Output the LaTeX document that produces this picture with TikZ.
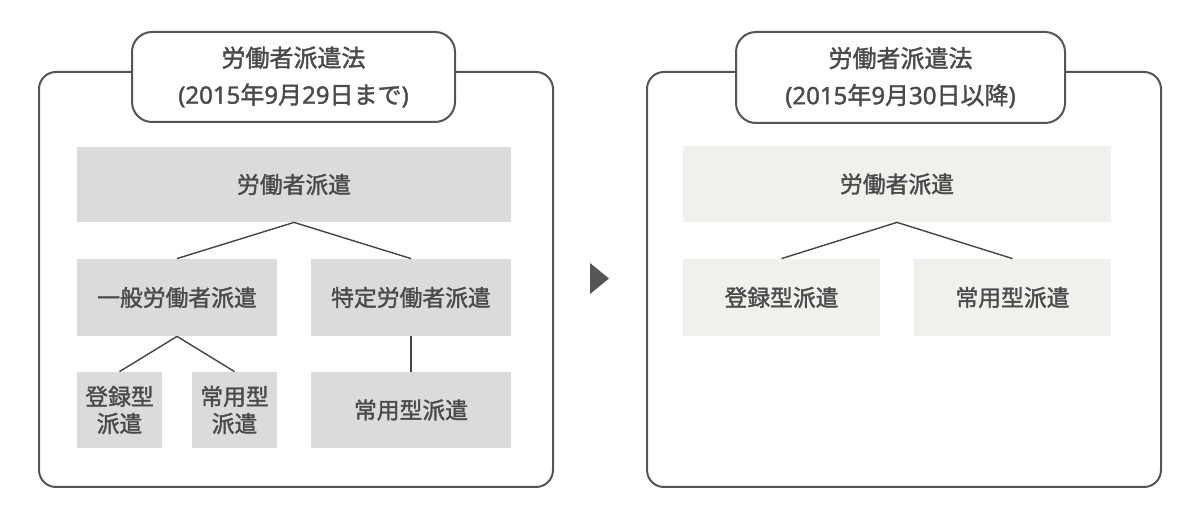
\documentclass[tikz,border=0pt]{standalone}
\usepackage{fontspec}
\setmainfont{Noto Sans CJK JP}[FakeBold=1.5]
\newfontfamily\lat{Noto Sans}[FakeBold=1.5]
\definecolor{txt}{HTML}{4A4A4A}
\definecolor{frm}{HTML}{555555}
\definecolor{lgray}{HTML}{DBDBDB}
\definecolor{beige}{HTML}{F2F0EC}
\definecolor{ln}{HTML}{444444}
\tikzset{
  frame/.style={draw=frm, line width=1pt, rounded corners=8.5pt},
  header/.style={draw=frm, fill=white, line width=1pt, rounded corners=10pt, inner sep=0pt, text=txt, align=center, font=\fontsize{12}{18.5}\selectfont},
  graybox/.style={fill=lgray, inner sep=0pt, text=txt, align=center, font=\fontsize{11.4}{13.5}\selectfont},
  beigebox/.style={fill=beige, inner sep=0pt, text=txt, align=center, font=\fontsize{11.4}{13.5}\selectfont},
  conn/.style={draw=ln, line width=0.7pt},
}
\begin{document}
\begin{tikzpicture}[x=0.5pt,y=-0.5pt]
\useasboundingbox (0,0) rectangle (1200,528);
% left frame
\draw[frame] (39,72) rectangle (553,487);
\node[header, minimum width=161.5pt, minimum height=45pt] (lh) at (293.5,77) {労働者派遣法\\{\lat(2015}年{\lat 9}月{\lat 29}日まで{\lat)}};
\node[graybox, minimum width=217pt, minimum height=37.5pt] (lt) at (294,184.5) {労働者派遣};
\node[graybox, minimum width=100pt, minimum height=38.5pt] (li) at (177,297.5) {一般労働者派遣};
\node[graybox, minimum width=100pt, minimum height=38.5pt] (lk) at (411,297.5) {特定労働者派遣};
\node[graybox, minimum width=42.5pt, minimum height=38pt] (lr) at (119.5,410) {登録型\\派遣};
\node[graybox, minimum width=42.5pt, minimum height=38pt] (ls) at (234.5,410) {常用型\\派遣};
\node[graybox, minimum width=100pt, minimum height=38pt] (lb) at (411,410) {常用型派遣};
\draw[conn] (lt.south) -- (li.north);
\draw[conn] (lt.south) -- (lk.north);
\draw[conn] (li.south) -- (lr.north);
\draw[conn] (li.south) -- (ls.north);
\draw[conn] (lk.south) -- (lb.north);
% arrow
\fill[frm] (590,263) -- (609,278.5) -- (590,294) -- cycle;
% right frame
\draw[frame] (647,72) rectangle (1161,487);
\node[header, minimum width=164.5pt, minimum height=45.5pt] (rh) at (900.5,77.5) {労働者派遣法\\{\lat(2015}年{\lat 9}月{\lat 30}日以降{\lat)}};
\node[beigebox, minimum width=214pt, minimum height=38pt] (rt) at (897,184) {労働者派遣};
\node[beigebox, minimum width=98.5pt, minimum height=38.5pt] (rr) at (781.5,297.5) {登録型派遣};
\node[beigebox, minimum width=98.5pt, minimum height=38.5pt] (rs) at (1012.5,297.5) {常用型派遣};
\draw[conn] (rt.south) -- (rr.north);
\draw[conn] (rt.south) -- (rs.north);
\end{tikzpicture}
\end{document}
